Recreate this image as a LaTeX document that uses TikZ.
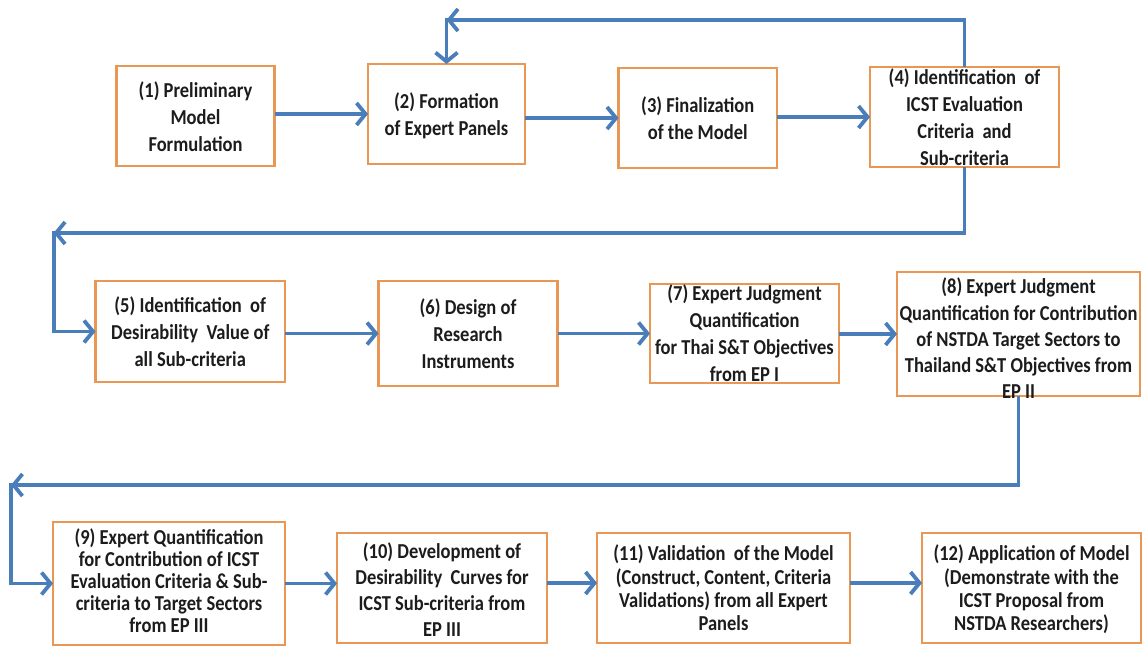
\documentclass[tikz,border=0pt]{standalone}
\usepackage{graphicx}
\usepackage{fontspec}
\setmainfont{Carlito}
\usetikzlibrary{arrows.meta}
\definecolor{boxorange}{RGB}{232,152,84}
\definecolor{flowblue}{RGB}{74,126,187}
\definecolor{inktext}{RGB}{28,28,28}

% centred block of lines, set tall and narrow: #1 = line pitch in pt, #2 = lines
\newcommand{\boxlines}[2]{%
  \scalebox{1}[1.15]{\fontsize{18.5}{#1}\selectfont\bfseries
    \begin{tabular}{@{}c@{}}#2\end{tabular}}}

\begin{document}
\begin{tikzpicture}[x=1pt,y=-1pt,
  stepbox/.style={draw=boxorange, line width=2.6pt, fill=white, inner sep=0pt, outer sep=0pt},
  steptext/.style={align=center, text=inktext, inner sep=0pt, yshift=-3pt},
  flow/.style={draw=flowblue, line width=3.8pt,
    -{Straight Barb[length=9pt,width=22pt,line width=3.8pt]}}]

\useasboundingbox (0,0) rectangle (1144,648);
\fill[white] (0,0) rectangle (1144,648);

% ---- row 1 ----
\node[stepbox, minimum width=158pt, minimum height=100pt,
  label={[steptext]center:{\boxlines{23.5}{(1) Preliminary\\Model\\Formulation}}}] (b1) at (195.5,116) {};
\node[stepbox, minimum width=157pt, minimum height=100pt,
  label={[steptext]center:{\boxlines{23.5}{(2) Formation\\of Expert Panels}}}] (b2) at (446.5,114) {};
\node[stepbox, minimum width=158.5pt, minimum height=100pt,
  label={[steptext]center:{\boxlines{23.5}{(3) Finalization\\of the Model}}}] (b3) at (697.75,118) {};
\node[stepbox, minimum width=189pt, minimum height=100pt,
  label={[steptext]center:{\boxlines{23.5}{(4) Identification~ of\\ICST Evaluation\\Criteria~ and\\Sub-criteria}}}] (b4) at (964.5,117) {};

% ---- row 2 ----
\node[stepbox, minimum width=189.5pt, minimum height=101pt,
  label={[steptext]center:{\boxlines{23.5}{(5) Identification~ of\\Desirability~ Value of\\all Sub-criteria}}}] (b5) at (190.25,331.5) {};
\node[stepbox, minimum width=179pt, minimum height=105pt,
  label={[steptext]center:{\boxlines{23.5}{(6) Design of\\Research\\Instruments}}}] (b6) at (468,333.5) {};
\node[stepbox, minimum width=189pt, minimum height=99pt,
  label={[steptext, yshift=1pt]center:{\boxlines{23.5}{(7) Expert Judgment\\Quantification\\for Thai S\&T Objectives\\from EP I}}}] (b7) at (744.5,333.5) {};
\node[stepbox, minimum width=243pt, minimum height=124pt,
  label={[steptext, yshift=-4pt]center:{\boxlines{22.8}{(8) Expert Judgment\\Quantification for Contribution\\of NSTDA Target Sectors to\\Thailand S\&T Objectives from\\EP II}}}] (b8) at (1018.5,334) {};

% ---- row 3 ----
\node[stepbox, minimum width=232pt, minimum height=123pt,
  label={[steptext, yshift=3pt]center:{\boxlines{19.1}{(9) Expert Quantification\\for Contribution of ICST\\Evaluation Criteria \& Sub-\\criteria to Target Sectors\\from EP III}}}] (b9) at (169,583.5) {};
\node[stepbox, minimum width=210pt, minimum height=110pt,
  label={[steptext, yshift=-1pt]center:{\boxlines{22.6}{(10) Development of\\Desirability~ Curves for\\ICST Sub-criteria from\\EP III}}}] (b10) at (442,588) {};
\node[stepbox, minimum width=253pt, minimum height=110pt,
  label={[steptext]center:{\boxlines{20.3}{(11) Validation~ of the Model\\(Construct, Content, Criteria\\Validations) from all Expert\\Panels}}}] (b11) at (723.5,588) {};
\node[stepbox, minimum width=219pt, minimum height=110pt,
  label={[steptext]center:{\boxlines{20.3}{(12) Application of Model\\(Demonstrate with the\\ICST Proposal from\\NSTDA Researchers)}}}] (b12) at (1031.5,588) {};

% ---- forward arrows ----
\draw[flow] (b1.east |- b2.west) -- (b2.west);
\draw[flow] (b2.east |- b3.west) -- (b3.west);
\draw[flow] (b3.east |- b4.west) -- (b4.west);
\draw[flow] (b5.east |- b6.west) -- (b6.west);
\draw[flow] (b6.east |- b7.west) -- (b7.west);
\draw[flow] (b7.east |- b8.west) -- (b8.west);
\draw[flow] (b9.east) -- (b9.east -| b10.west);
\draw[flow] ([yshift=5pt]b10.east) -- ([yshift=5pt]b10.east -| b11.west);
\draw[flow] ([yshift=5pt]b11.east) -- ([yshift=5pt]b11.east -| b12.west);

% ---- return paths between rows ----
\coordinate (t1) at (446.5,20);
\coordinate (t2) at (53.6,233);
\coordinate (t3) at (11,485);
\draw[flow] (b4.north) |- (t1);
\draw[flow] ([yshift=1.9pt]t1) -- (b2.north);
\draw[flow] (b4.south) |- (t2);
\draw[flow] ([yshift=1.9pt]t2) |- (b5.west);
\draw[flow] (b8.south) |- (t3);
\draw[flow] ([yshift=1.9pt]t3) |- (b9.west);
\end{tikzpicture}
\end{document}
